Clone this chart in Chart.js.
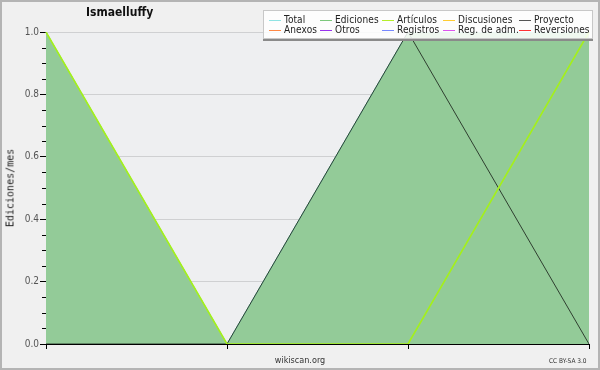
<!DOCTYPE html>
<html>
<head>
<meta charset="utf-8">
<script src="https://cdn.jsdelivr.net/npm/chart.js"></script>
<style>
  html, body { margin: 0; padding: 0; background: #f0f0f0; }
  #wrap { position: relative; width: 600px; height: 370px; overflow: hidden; }
  #frame { position: absolute; left: 0; top: 0; width: 600px; height: 370px; box-sizing: border-box;
           border: 2px solid #b4b4b4; pointer-events: none; }
  .txt { position: absolute; white-space: nowrap; color: #222; }
  #title { left: 86px; top: 5px; font: bold 12px "DejaVu Sans Condensed", "DejaVu Sans", sans-serif; color: #111; }
  #ytitle { left: 10px; top: 188px; font: 10px "DejaVu Sans Mono", monospace; color: #222;
            transform: translate(-50%, -50%) rotate(-90deg); }
  #src { left: 300px; top: 355px; transform: translateX(-50%); font: 9px "DejaVu Sans Condensed", sans-serif; color: #333; }
  #lic { left: 549px; top: 357px; font: 6.5px "DejaVu Sans Condensed", sans-serif; color: #333; }
  #legend { position: absolute; left: 263px; top: 10px; width: 328px; height: 27px;
            background: rgba(255,255,255,0.86); border: 1px solid #c8c8c8; box-shadow: 0 2px 0 #8a8a8a; }
  .lg { position: absolute; height: 10px; font: 10px "DejaVu Sans Condensed", "DejaVu Sans", sans-serif;
        color: #222; line-height: 10px; white-space: nowrap; letter-spacing: 0.1px; }
  .lg i { position: absolute; left: 0; top: 5px; width: 12px; height: 1px; }
  .lg span { position: absolute; left: 15px; top: 0; }
</style>
</head>
<body>
<div id="wrap">
  <canvas id="c" width="600" height="370"></canvas>
  <div id="title" class="txt">Ismaelluffy</div>
  <div id="ytitle" class="txt">Ediciones/mes</div>
  <div id="src" class="txt">wikiscan.org</div>
  <div id="lic" class="txt">CC BY-SA 3.0</div>
  <div id="legend"></div>
  <div id="frame"></div>
</div>
<script>
// months shown on the x axis (labels are not printed in the picture)
const months = ['2020-01', '2020-02', '2020-03', '2020-04'];

// edits per month
const total = [1, 0, 1, 1];
const ediciones = [1, 0, 1, 1];
const articulos = [1, 0, 0, 1];
const proyecto = [0, 0, 1, 0];

// legend entries, row by row
const legendNames = ['Total', 'Ediciones', 'Artículos', 'Discusiones', 'Proyecto',
                     'Anexos', 'Otros', 'Registros', 'Reg. de adm.', 'Reversiones'];
const legendColors = ['#8fe3e3', '#7cc87c', '#b5ee2a', '#ffcc33', '#555555',
                      '#ff8844', '#9933ee', '#7788ff', '#dd55ee', '#ff3333'];

// build the legend box
const legendCols = [5, 56, 118, 179, 255];
const legendRows = [4, 14];
const legendBox = document.getElementById('legend');
legendNames.forEach((name, i) => {
  const el = document.createElement('div');
  el.className = 'lg';
  el.style.left = legendCols[i % 5] + 'px';
  el.style.top = legendRows[Math.floor(i / 5)] + 'px';
  el.innerHTML = '<i style="background:' + legendColors[i] + '"></i><span></span>';
  el.querySelector('span').textContent = name;
  legendBox.appendChild(el);
});

const isMajor = v => Math.round(v * 20) % 4 === 0;

// plot background + short minor ticks on the y axis
const plotBg = {
  id: 'plotBg',
  beforeDraw(chart) {
    const a = chart.chartArea, ctx = chart.ctx;
    ctx.save();
    ctx.fillStyle = '#eeeff1';
    ctx.fillRect(a.left, a.top, a.right - a.left, a.bottom - a.top);
    ctx.restore();
  },
  afterDraw(chart) {
    const y = chart.scales.y, ctx = chart.ctx, left = chart.chartArea.left;
    ctx.save();
    ctx.strokeStyle = '#000';
    ctx.lineWidth = 1;
    y.ticks.forEach(t => {
      if (isMajor(t.value)) return;
      const py = Math.round(y.getPixelForValue(t.value)) + 0.5;
      ctx.beginPath();
      ctx.moveTo(left - 4, py);
      ctx.lineTo(left, py);
      ctx.stroke();
    });
    ctx.restore();
  }
};

new Chart(document.getElementById('c'), {
  type: 'line',
  data: {
    labels: months,
    datasets: [
      { label: 'Ediciones', data: ediciones, borderColor: '#7cc87c', backgroundColor: '#93cb98',
        fill: 'origin', borderWidth: 1, order: 4 },
      { label: 'Total', data: total, borderColor: '#8fe3e3', fill: false, borderWidth: 1, order: 3 },
      { label: 'Proyecto', data: proyecto, borderColor: '#2f3f30', fill: false, borderWidth: 1, order: 2 },
      { label: 'Artículos', data: articulos, borderColor: '#a4f01a', fill: false, borderWidth: 1.6, order: 1 }
    ]
  },
  options: {
    responsive: false,
    animation: false,
    devicePixelRatio: 1,
    layout: { padding: { left: 0, right: 11, top: 32, bottom: 0 } },
    elements: { point: { radius: 0 }, line: { tension: 0 } },
    plugins: { legend: { display: false }, title: { display: false }, tooltip: { enabled: false } },
    scales: {
      x: {
        offset: false,
        border: { display: true, color: '#000', width: 1 },
        grid: { drawOnChartArea: false, drawTicks: true, tickLength: 5, tickColor: '#000' },
        ticks: { callback: () => '' },
        afterFit: s => { s.height = 26; }
      },
      y: {
        min: 0, max: 1,
        border: { display: true, color: '#000', width: 1 },
        grid: {
          color: ctx => isMajor(ctx.tick.value) ? '#cfd0d2' : 'rgba(0,0,0,0)',
          tickColor: ctx => isMajor(ctx.tick.value) ? '#000' : 'rgba(0,0,0,0)',
          tickLength: 6
        },
        ticks: {
          stepSize: 0.05, autoSkip: false, padding: 1, color: '#555',
          font: { family: '"Liberation Sans Narrow", "DejaVu Sans Condensed", sans-serif', size: 10 },
          callback: v => isMajor(v) ? (Math.round(v * 20) / 20).toFixed(1) : ''
        },
        afterFit: s => { s.width = 46; }
      }
    }
  },
  plugins: [plotBg]
});
</script>
</body>
</html>
